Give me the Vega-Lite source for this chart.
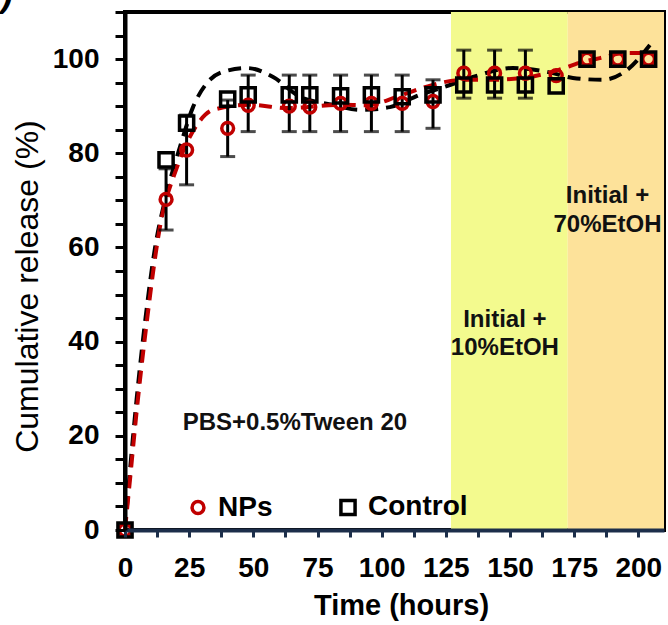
{
  "$schema": "https://vega.github.io/schema/vega-lite/v6.json",
  "width": 539,
  "height": 518,
  "autosize": {"type": "none"},
  "padding": {"left": 125, "top": 12, "right": 4, "bottom": 95},
  "title": {"text": ")", "anchor": "start", "frame": "group", "dx": -124, "dy": 16, "offset": 0, "fontSize": 36, "fontWeight": "bold", "fontStyle": "italic", "font": "Liberation Sans", "color": "black"},
  "config": {
    "font": "Liberation Sans",
    "view": {"stroke": "black", "strokeWidth": 4},
    "axis": {"grid": false, "labelColor": "black", "titleColor": "black", "labelFont": "Liberation Sans", "titleFont": "Liberation Sans"}
  },
  "datasets": {
    "pts": [
      {"series": "NPs", "t": 0, "val": 0},
      {"series": "NPs", "t": 16, "val": 70.2, "lo": 63.7, "hi": 76.7},
      {"series": "NPs", "t": 24, "val": 80.7, "lo": 73.3, "hi": 88.1},
      {"series": "NPs", "t": 40, "val": 85.3, "lo": 79.3, "hi": 91.3},
      {"series": "NPs", "t": 48, "val": 90.2, "lo": 84.6, "hi": 96.6},
      {"series": "NPs", "t": 64, "val": 90.0, "lo": 84.6, "hi": 96.6},
      {"series": "NPs", "t": 72, "val": 89.8, "lo": 84.6, "hi": 96.6},
      {"series": "NPs", "t": 84, "val": 90.6, "lo": 84.6, "hi": 96.6},
      {"series": "NPs", "t": 96, "val": 90.6, "lo": 84.6, "hi": 96.6},
      {"series": "NPs", "t": 108, "val": 90.6, "lo": 84.6, "hi": 96.6},
      {"series": "NPs", "t": 120, "val": 91.0, "lo": 85.3, "hi": 95.6},
      {"series": "NPs", "t": 132, "val": 97.0, "lo": 91.7, "hi": 101.9},
      {"series": "NPs", "t": 144, "val": 97.0, "lo": 91.7, "hi": 101.9},
      {"series": "NPs", "t": 156, "val": 97.0, "lo": 91.7, "hi": 101.9},
      {"series": "NPs", "t": 168, "val": 96.5},
      {"series": "NPs", "t": 180, "val": 100},
      {"series": "NPs", "t": 192, "val": 100},
      {"series": "NPs", "t": 204, "val": 100},
      {"series": "Control", "t": 0, "val": 0},
      {"series": "Control", "t": 16, "val": 78.6},
      {"series": "Control", "t": 24, "val": 86.4},
      {"series": "Control", "t": 40, "val": 91.5},
      {"series": "Control", "t": 48, "val": 92.4},
      {"series": "Control", "t": 64, "val": 92.4},
      {"series": "Control", "t": 72, "val": 92.4},
      {"series": "Control", "t": 84, "val": 92.2},
      {"series": "Control", "t": 96, "val": 92.4},
      {"series": "Control", "t": 108, "val": 92.0},
      {"series": "Control", "t": 120, "val": 92.4},
      {"series": "Control", "t": 132, "val": 94.5},
      {"series": "Control", "t": 144, "val": 94.5},
      {"series": "Control", "t": 156, "val": 94.5},
      {"series": "Control", "t": 168, "val": 94.3},
      {"series": "Control", "t": 180, "val": 100},
      {"series": "Control", "t": 192, "val": 100},
      {"series": "Control", "t": 204, "val": 100}
    ],
    "curves": [
      {"fit": "Control", "t": 0, "val": 0},
      {"fit": "Control", "t": 2, "val": 13},
      {"fit": "Control", "t": 4.5, "val": 27.6},
      {"fit": "Control", "t": 8, "val": 45},
      {"fit": "Control", "t": 11.7, "val": 59.9},
      {"fit": "Control", "t": 15.6, "val": 70.1},
      {"fit": "Control", "t": 21.4, "val": 81.3},
      {"fit": "Control", "t": 26.5, "val": 89.8},
      {"fit": "Control", "t": 31.9, "val": 94.9},
      {"fit": "Control", "t": 38.2, "val": 97.3},
      {"fit": "Control", "t": 47.5, "val": 98.1},
      {"fit": "Control", "t": 57.7, "val": 96.2},
      {"fit": "Control", "t": 68.2, "val": 92.0},
      {"fit": "Control", "t": 81, "val": 90.3},
      {"fit": "Control", "t": 91.5, "val": 89.2},
      {"fit": "Control", "t": 103.2, "val": 89.8},
      {"fit": "Control", "t": 114.9, "val": 92.4},
      {"fit": "Control", "t": 126.6, "val": 94.5},
      {"fit": "Control", "t": 135.6, "val": 96.2},
      {"fit": "Control", "t": 151.1, "val": 98.1},
      {"fit": "Control", "t": 164.4, "val": 97.3},
      {"fit": "Control", "t": 174.5, "val": 96.0},
      {"fit": "Control", "t": 186.2, "val": 95.6},
      {"fit": "Control", "t": 195.6, "val": 97.7},
      {"fit": "Control", "t": 204.5, "val": 103},
      {"fit": "NPs", "t": 0, "val": 0},
      {"fit": "NPs", "t": 2, "val": 11},
      {"fit": "NPs", "t": 4.5, "val": 25},
      {"fit": "NPs", "t": 8, "val": 42},
      {"fit": "NPs", "t": 13.6, "val": 64.3},
      {"fit": "NPs", "t": 20.3, "val": 77.1},
      {"fit": "NPs", "t": 28, "val": 86},
      {"fit": "NPs", "t": 34.3, "val": 89.2},
      {"fit": "NPs", "t": 48.7, "val": 90.3},
      {"fit": "NPs", "t": 63.1, "val": 89.6},
      {"fit": "NPs", "t": 84, "val": 90.3},
      {"fit": "NPs", "t": 94, "val": 90.2},
      {"fit": "NPs", "t": 106, "val": 92},
      {"fit": "NPs", "t": 116, "val": 93.9},
      {"fit": "NPs", "t": 132, "val": 95.6},
      {"fit": "NPs", "t": 142, "val": 95.6},
      {"fit": "NPs", "t": 155, "val": 96},
      {"fit": "NPs", "t": 169, "val": 97.7},
      {"fit": "NPs", "t": 177, "val": 99.2},
      {"fit": "NPs", "t": 185, "val": 100.2},
      {"fit": "NPs", "t": 195, "val": 101.3},
      {"fit": "NPs", "t": 206, "val": 101.3}
    ],
    "bands": [
      {"phase": "10%", "start": 127, "end": 172.5},
      {"phase": "70%", "start": 172.5, "end": 210}
    ],
    "notes": [
      {"text": "PBS+0.5%Tween 20", "t": 66.2, "val": 22.7},
      {"text": "Initial +", "t": 148, "val": 44.6},
      {"text": "10%EtOH", "t": 148, "val": 38.6},
      {"text": "Initial +", "t": 188, "val": 70.9},
      {"text": "70%EtOH", "t": 188, "val": 64.8}
    ]
  },
  "encoding": {
    "x": {
      "field": "t", "type": "quantitative",
      "scale": {"domain": [0, 210], "nice": false, "zero": false},
      "axis": {
        "title": "Time (hours)", "titleFontSize": 29, "titleFontWeight": "bold",
        "titleX": 276, "titleY": 84, "titleBaseline": "alphabetic",
        "values": [0, 12.5, 25, 37.5, 50, 62.5, 75, 87.5, 100, 112.5, 125, 137.5, 150, 162.5, 175, 187.5, 200],
        "labelExpr": "datum.value % 25 === 0 ? datum.label : ''",
        "labelFontSize": 28, "labelFontWeight": "bold", "labelPadding": 17,
        "labelFlush": false, "labelOverlap": false,
        "tickSize": 7, "tickWidth": 3, "tickColor": "#1c2e4a",
        "domainColor": "#1c2e4a", "domainWidth": 4, "zindex": 1
      }
    },
    "y": {
      "field": "val", "type": "quantitative",
      "scale": {"domain": [0, 110], "nice": false},
      "axis": {
        "title": "Cumulative release (%)", "titleFontSize": 32, "titleFontWeight": "normal",
        "titleX": -98, "titleY": 274, "titleAngle": 270, "titleAlign": "center", "titleBaseline": "middle",
        "values": [0, 5, 10, 15, 20, 25, 30, 35, 40, 45, 50, 55, 60, 65, 70, 75, 80, 85, 90, 95, 100, 105, 110],
        "labelExpr": "datum.value % 20 === 0 ? datum.label : ''",
        "labelFontSize": 28, "labelFontWeight": "bold", "labelPadding": 16,
        "labelOverlap": false, "labelFlush": false,
        "tickSize": 10, "tickWidth": 3, "tickColor": "black",
        "domainColor": "black", "domainWidth": 4, "zindex": 1
      }
    }
  },
  "layer": [
    {
      "data": {"name": "bands"},
      "transform": [{"filter": "datum.phase === '10%'"}],
      "mark": {"type": "rect", "color": "#f3fa8e"},
      "encoding": {"x": {"field": "start", "type": "quantitative"}, "x2": {"field": "end"}, "y": null}
    },
    {
      "data": {"name": "bands"},
      "transform": [{"filter": "datum.phase === '70%'"}],
      "mark": {"type": "rect", "color": "#fde29a"},
      "encoding": {"x": {"field": "start", "type": "quantitative"}, "x2": {"field": "end"}, "y": null}
    },
    {
      "data": {"name": "notes"},
      "mark": {"type": "text", "fontSize": 24, "fontWeight": "bold", "align": "center", "baseline": "middle", "color": "#111111"},
      "encoding": {"text": {"field": "text"}}
    },
    {
      "data": {"name": "curves"},
      "transform": [{"filter": "datum.fit === 'Control'"}],
      "mark": {"type": "line", "color": "black", "strokeWidth": 4, "strokeDash": [13, 8], "interpolate": "monotone"},
      "encoding": {}
    },
    {
      "data": {"name": "curves"},
      "transform": [{"filter": "datum.fit === 'NPs'"}],
      "mark": {"type": "line", "color": "#c00000", "strokeWidth": 4, "strokeDash": [13, 8], "interpolate": "monotone"},
      "encoding": {}
    },
    {
      "data": {"name": "pts"},
      "transform": [{"filter": "isValid(datum.lo)"}],
      "mark": {"type": "rule", "color": "black", "strokeWidth": 3},
      "encoding": {"y": {"field": "lo", "type": "quantitative"}, "y2": {"field": "hi"}}
    },
    {
      "data": {"name": "pts"},
      "transform": [{"filter": "isValid(datum.lo)"}],
      "mark": {"type": "tick", "orient": "horizontal", "color": "black", "size": 15, "thickness": 3},
      "encoding": {"y": {"field": "lo", "type": "quantitative"}}
    },
    {
      "data": {"name": "pts"},
      "transform": [{"filter": "isValid(datum.hi)"}],
      "mark": {"type": "tick", "orient": "horizontal", "color": "black", "size": 15, "thickness": 3},
      "encoding": {"y": {"field": "hi", "type": "quantitative"}}
    },
    {
      "data": {"name": "pts"},
      "mark": {"type": "point", "filled": false, "strokeWidth": 3.5, "opacity": 1},
      "encoding": {
        "color": {
          "field": "series", "type": "nominal",
          "scale": {"domain": ["NPs", "Control"], "range": ["#c00000", "black"]},
          "legend": {
            "title": null, "orient": "none", "legendX": 59, "legendY": 481, "direction": "horizontal",
            "labelFontSize": 28, "labelFontWeight": "bold", "labelColor": "black", "labelFont": "Liberation Sans",
            "symbolStrokeWidth": 3.5, "symbolSize": 150, "labelOffset": 6, "columnPadding": 60, "padding": 0
          }
        },
        "shape": {"field": "series", "type": "nominal", "scale": {"domain": ["NPs", "Control"], "range": ["circle", "square"]}},
        "size": {"field": "series", "type": "nominal", "scale": {"domain": ["NPs", "Control"], "range": [140, 200]}, "legend": null}
      }
    }
  ]
}
